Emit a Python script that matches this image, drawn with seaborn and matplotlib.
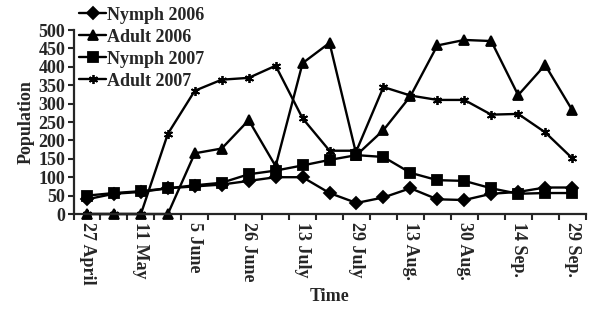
import numpy as np
import pandas as pd
import matplotlib
matplotlib.use("Agg")
import matplotlib.pyplot as plt
import seaborn as sns

# ── Data ──────────────────────────────────────────────────────────────────────
tick_labels = ["27 April", "11 May", "5 June", "26 June", "13 July",
               "29 July", "13 Aug.", "30 Aug.", "14 Sep.", "29 Sep."]
n_points = 19  # sampling dates; labels on every second one

nymph_2006 = [40, 55, 60, 70, 75, 80, 90, 100, 100, 57, 30, 45, 70, 40, 38, 55, 60, 72, 72]
adult_2006 = [0, 0, 0, 0, 165, 178, 255, 130, 410, 465, 160, 228, 320, 458, 473, 470, 323, 405, 283]
nymph_2007 = [50, 57, 62, 70, 78, 85, 108, 118, 132, 147, 160, 155, 112, 92, 90, 70, 55, 57, 57]
adult_2007 = [0, 0, 0, 218, 335, 365, 370, 403, 260, 172, 172, 345, 322, 310, 310, 270, 272, 222, 152]

series = {"Nymph 2006": nymph_2006, "Adult 2006": adult_2006,
          "Nymph 2007": nymph_2007, "Adult 2007": adult_2007}
markers = {"Nymph 2006": "D", "Adult 2006": "^",
           "Nymph 2007": "s", "Adult 2007": (6, 2, 0)}

# ── Plot ─────────────────────────────────────────────────────────────────────
sns.set_style("ticks")
plt.rcParams["font.family"] = ["Liberation Serif", "DejaVu Serif"]
plt.rcParams["font.weight"] = "bold"

fig = plt.figure(figsize=(5.92, 3.09), dpi=100)
ax = fig.add_axes([0.1242, 0.3074, 0.8649, 0.5955])

t = np.arange(n_points)
for name, vals in series.items():
    sns.lineplot(x=t, y=vals, marker=markers[name], color="black", linewidth=1.7,
                 markersize=6.5, markeredgecolor="black", markerfacecolor="black",
                 markeredgewidth=1.3, label=name, ax=ax)
for line in ax.lines:
    line.set_clip_on(False)

ax.set_xlim(-0.5, n_points - 0.5)
ax.set_ylim(0, 500)
ax.set_yticks(np.arange(0, 501, 50))
ax.set_xticks(np.arange(0, n_points, 2))
ax.set_xticklabels(tick_labels, rotation=-90, fontsize=13, fontweight="bold")
ax.set_xticks(np.arange(-0.5, n_points, 1), minor=True)
ax.tick_params(axis="x", which="major", length=0, pad=6)
ax.tick_params(axis="x", which="minor", length=4, width=1.5, direction="out")
ax.tick_params(axis="y", length=4, width=1.5, direction="out", labelsize=13, pad=2)
for lab in ax.get_yticklabels():
    lab.set_fontweight("bold")
ax.spines[["top", "right"]].set_visible(False)
ax.spines[["left", "bottom"]].set_linewidth(1.6)

ax.set_xlabel("Time", fontsize=13, fontweight="bold", labelpad=2)
ax.set_ylabel("Population", fontsize=13, fontweight="bold", labelpad=3)

handles, labels = ax.get_legend_handles_labels()
ax.get_legend().remove()
fig.legend(handles, labels, loc="upper left", bbox_to_anchor=(0.1217, 1.002),
           frameon=False, handlelength=1.5, handletextpad=0.05,
           labelspacing=0.28, borderaxespad=0, prop={"weight": "bold", "size": 13})

fig.savefig("out.png", dpi=100)
